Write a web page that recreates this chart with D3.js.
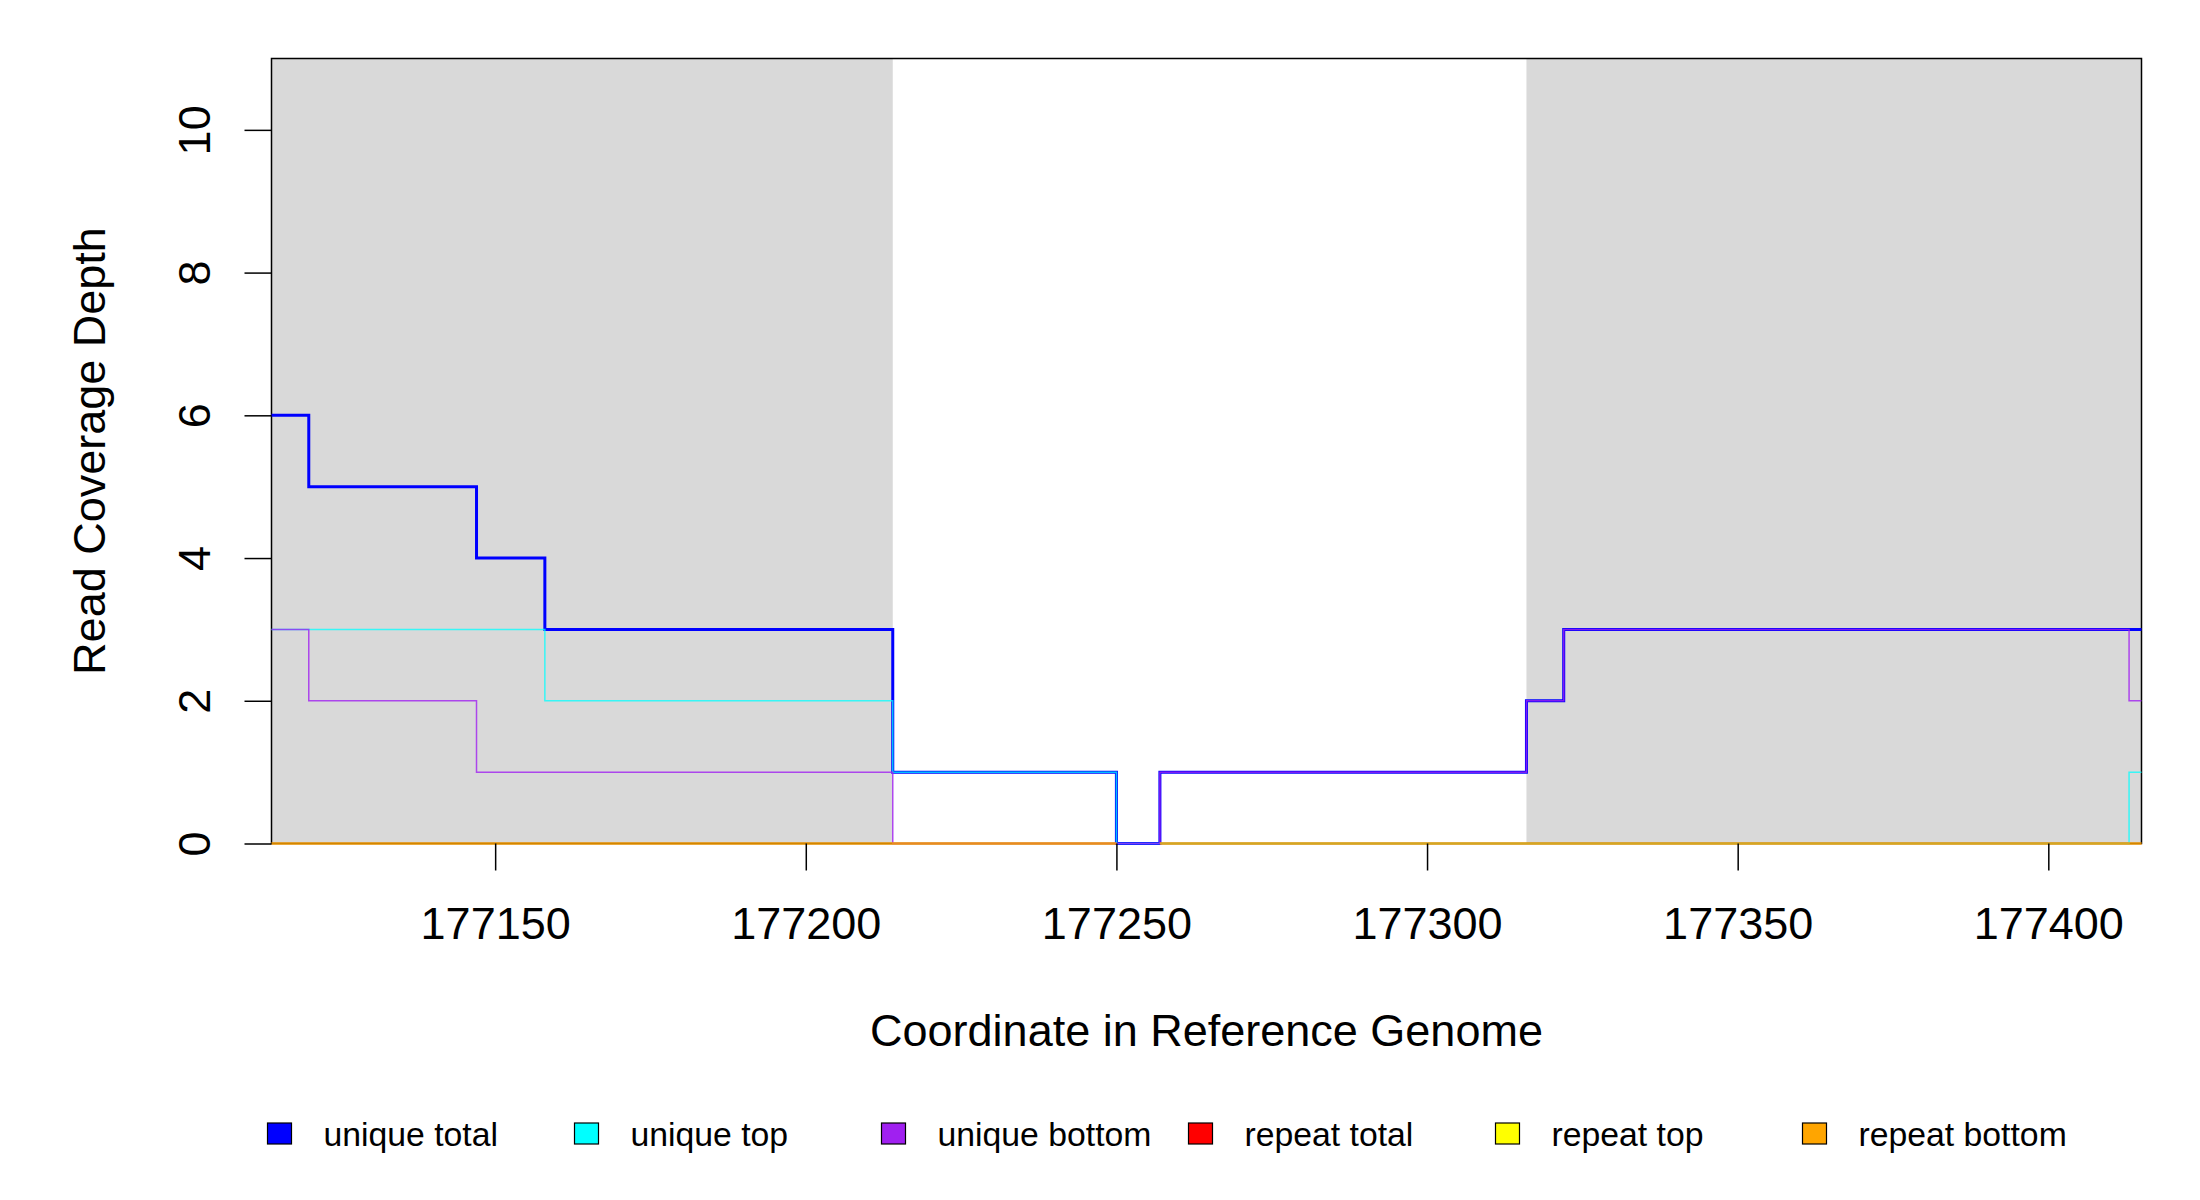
<!DOCTYPE html>
<html>
<head>
<meta charset="utf-8">
<script src="https://cdn.jsdelivr.net/npm/d3@7"></script>
<style>
body { margin: 0; background: #fff; }
text { font-family: "Liberation Sans", Arial, sans-serif; fill: #000; }
</style>
</head>
<body>
<svg id="chart" width="2200" height="1200"></svg>
<script>
"use strict";
// axis ranges and ticks
const xDomain = [177114, 177415];
const yDomain = [0, 11];
const xTicks = [177150, 177200, 177250, 177300, 177350, 177400];
const yTicks = [0, 2, 4, 6, 8, 10];

// shaded (gray) intervals
const shadedRegions = [[177114, 177214], [177316, 177415]];

// step series: coordinate where each level starts, and the level (null = no data)
const uniqueTotalX = [177114, 177120, 177147, 177158, 177214, 177250, 177257, 177316, 177322];
const uniqueTotalY = [6, 5, 4, 3, 1, 0, 1, 2, 3];
const uniqueTopX = [177114, 177158, 177214, 177250, 177413];
const uniqueTopY = [3, 2, 1, 0, 1];
const uniqueBottomX = [177114, 177120, 177147, 177214, 177257, 177316, 177322, 177413];
const uniqueBottomY = [3, 2, 1, 0, 1, 2, 3, 2];
const repeatTotalX = [177114, 177250, 177257];
const repeatTotalY = [0, null, 0];
const repeatTopX = [177114, 177250, 177257];
const repeatTopY = [0, null, 0];
const repeatBottomX = [177114, 177250, 177257];
const repeatBottomY = [0, null, 0];

const seriesNames = ["unique total", "unique top", "unique bottom", "repeat total", "repeat top", "repeat bottom"];
const seriesColors = ["#0000ff", "#00ffff", "#a020f0", "#ff0000", "#ffff00", "#ffa500"];

const svg = d3.select("#chart");
const plot = { left: 271.5, right: 2141.5, top: 58.5, bottom: 843.5 };

const x = d3.scaleLinear().domain(xDomain).range([plot.left, plot.right]);
const y = d3.scaleLinear().domain(yDomain).range([plot.bottom, plot.top]);

// gray regions
svg.append("g")
    .selectAll("rect")
    .data(shadedRegions)
    .enter()
    .append("rect")
    .attr("x", d => x(d[0]))
    .attr("y", plot.top)
    .attr("width", d => x(d[1]) - x(d[0]))
    .attr("height", plot.bottom - plot.top)
    .style("fill", "#d9d9d9");

// box
svg.append("rect")
    .attr("x", plot.left)
    .attr("y", plot.top)
    .attr("width", plot.right - plot.left)
    .attr("height", plot.bottom - plot.top)
    .style("fill", "none")
    .style("stroke", "#000")
    .style("stroke-width", 1.5);

// turn level starts into step points, closing each run before a gap
const toPoints = (xs, ys) => {
    const pts = [];
    xs.forEach((v, i) => {
        pts.push({ x: v, y: ys[i] });
        const nextX = i + 1 < xs.length ? xs[i + 1] : xDomain[1];
        const nextY = i + 1 < xs.length ? ys[i + 1] : null;
        if (ys[i] != null && nextY == null) pts.push({ x: nextX, y: ys[i] });
    });
    return pts;
};
const series = [
    toPoints(uniqueTotalX, uniqueTotalY),
    toPoints(uniqueTopX, uniqueTopY),
    toPoints(uniqueBottomX, uniqueBottomY),
    toPoints(repeatTotalX, repeatTotalY),
    toPoints(repeatTopX, repeatTopY),
    toPoints(repeatBottomX, repeatBottomY)
];
const widths = [3, 1.5, 1.5, 2.5, 2.5, 2.5];
const alphas = [1, 0.75, 0.8, 0.4, 0.4, 0.5];

const line = d3.line()
    .defined(d => d.y != null)
    .x(d => x(d.x))
    .y(d => y(d.y))
    .curve(d3.curveStepAfter);

svg.append("g")
    .selectAll("path")
    .data(series)
    .enter()
    .append("path")
    .attr("d", line)
    .style("fill", "none")
    .style("stroke", (d, i) => seriesColors[i])
    .style("stroke-width", (d, i) => widths[i])
    .style("stroke-opacity", (d, i) => alphas[i])
    .style("stroke-linejoin", "miter");

// axes
const xAxis = svg.append("g")
    .attr("transform", `translate(0,${plot.bottom})`)
    .call(d3.axisBottom(x).tickValues(xTicks).tickSize(27).tickFormat(d3.format("d")));
xAxis.select(".domain").remove();
xAxis.selectAll(".tick line").style("stroke", "#000").style("stroke-width", 1.5);
xAxis.selectAll(".tick text")
    .attr("y", 95.5)
    .attr("dy", 0)
    .style("font-size", "45px");

const yAxis = svg.append("g")
    .attr("transform", `translate(${plot.left},0)`)
    .call(d3.axisLeft(y).tickValues(yTicks).tickSize(27));
yAxis.select(".domain").remove();
yAxis.selectAll(".tick line").style("stroke", "#000").style("stroke-width", 1.5);
yAxis.selectAll(".tick text")
    .attr("transform", "rotate(-90)")
    .attr("x", 0)
    .attr("y", -62)
    .attr("dy", 0)
    .attr("text-anchor", "middle")
    .style("font-size", "45px");

// titles
svg.append("text")
    .attr("x", (plot.left + plot.right) / 2)
    .attr("y", 1046)
    .attr("text-anchor", "middle")
    .style("font-size", "45px")
    .text("Coordinate in Reference Genome");

svg.append("text")
    .attr("transform", `translate(105,${(plot.top + plot.bottom) / 2}) rotate(-90)`)
    .attr("text-anchor", "middle")
    .style("font-size", "45px")
    .text("Read Coverage Depth");

// legend
const legend = svg.append("g")
    .selectAll("g")
    .data(seriesNames)
    .enter()
    .append("g")
    .attr("transform", (d, i) => `translate(${267.5 + i * 307},1123)`);
legend.append("rect")
    .attr("width", 24)
    .attr("height", 21)
    .style("fill", (d, i) => seriesColors[i])
    .style("stroke", "#000")
    .style("stroke-width", 1.2);
legend.append("text")
    .attr("x", 56)
    .attr("y", 23)
    .style("font-size", "33.75px")
    .text(d => d);
</script>
</body>
</html>
